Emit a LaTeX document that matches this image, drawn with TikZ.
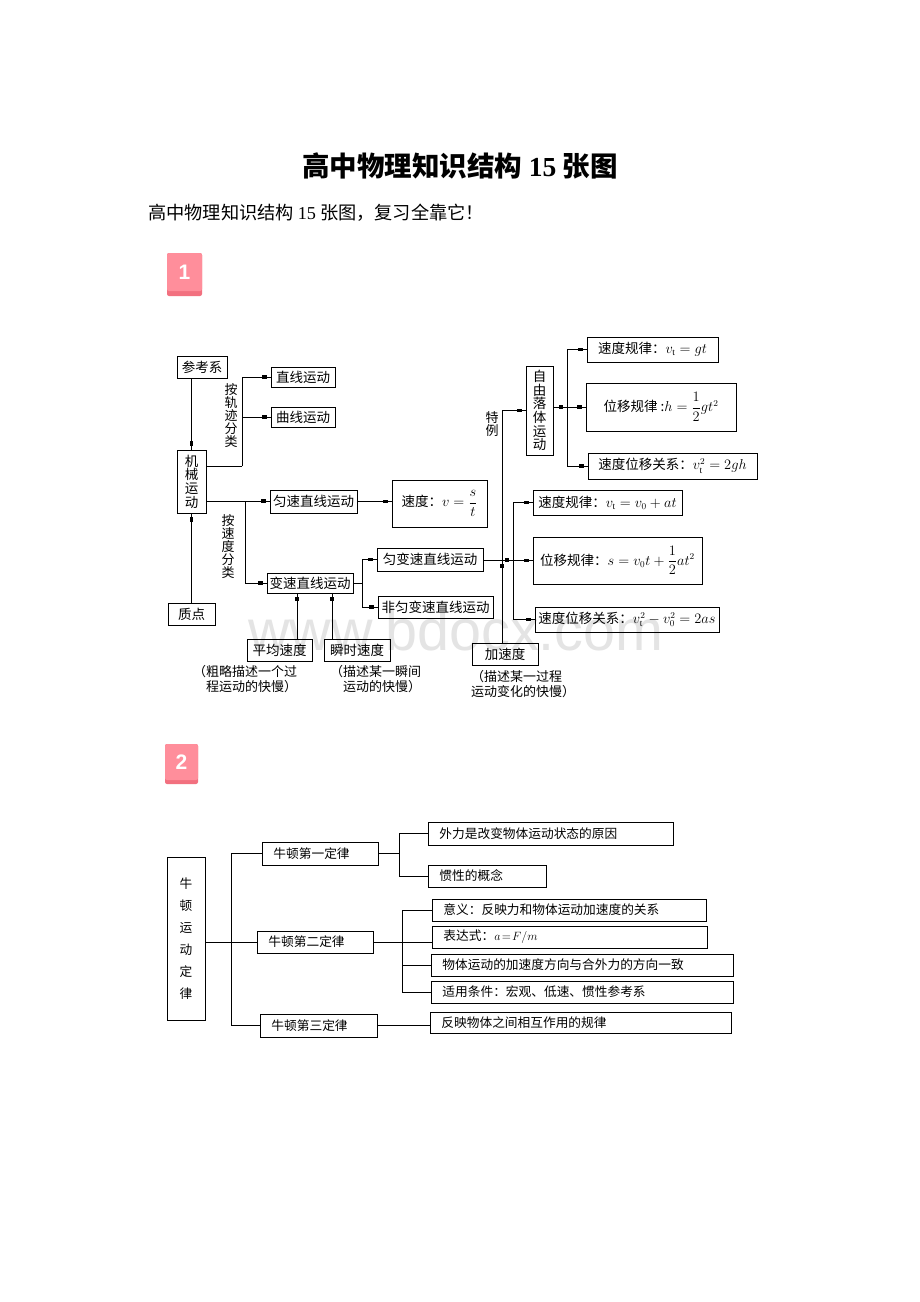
\documentclass[tikz,border=0pt]{standalone}
\usepackage{amsmath}
\usepackage{fontspec}
\setmainfont{Liberation Serif}
\newfontfamily\cjk{Noto Sans CJK SC}
\newfontfamily\sansf{Liberation Sans}
\usetikzlibrary{decorations.markings}
\definecolor{pinkbg}{HTML}{FF8E9B}
\definecolor{pinkdk}{HTML}{F2707F}
\definecolor{wmgray}{HTML}{E4E4E4}

\tikzset{
  bx/.style={draw,line width=0.9pt,inner sep=0pt,align=center,font=\cjk\fontsize{13.5}{13.6}\selectfont},
  bxl/.style={draw,line width=0.9pt,inner ysep=0pt,inner xsep=11pt,anchor=west,align=left,minimum height=22pt,font=\cjk\fontsize{12.7}{13}\selectfont},
  vt/.style={inner sep=0pt,align=center,font=\cjk\fontsize{13}{13}\selectfont},
  note/.style={inner sep=0pt,anchor=north west,align=left,font=\cjk\fontsize{13}{15}\selectfont},
  ln/.style={line width=0.9pt},
  mk/.style={ln,postaction={decorate,decoration={markings,mark=at position -6pt with {\fill (-2.2pt,-1.6pt) rectangle (2.2pt,1.6pt);}}}},
  badge/.style={text=white,font=\sansf\bfseries\fontsize{21}{21}\selectfont}
}

\begin{document}
\begin{tikzpicture}[x=1pt,y=-1pt]
\fill[white] (0,0) rectangle (920,1302);
\useasboundingbox (0,0) rectangle (920,1302);

\node[font=\cjk\bfseries\fontsize{27.5}{28}\selectfont] (title) at (460,165.5) {高中物理知识结构 {\rmfamily 15} 张图};
\node[anchor=west,inner sep=0pt,font=\cjk\fontsize{18.2}{19}\selectfont] (sub) at (148,213) {高中物理知识结构 {\rmfamily 15} 张图，复习全靠它！};

% badges
\fill[pinkdk,rounded corners=2pt] (167,253) rectangle (202,296);
\fill[pinkbg,rounded corners=2pt] (167,253) rectangle (202,291);
\node[badge] (b1) at (184.5,272) {1};
\fill[pinkdk,rounded corners=2pt] (165,744) rectangle (198,784);
\fill[pinkbg,rounded corners=2pt] (165,744) rectangle (198,780);
\node[badge] (b2) at (181.5,762) {2};

\node[anchor=base west,inner sep=0pt,text=wmgray,font=\sansf\fontsize{57.5}{58}\selectfont] (wm) at (248,650) {www.bdocx.com};

% picture 1
\node[bx,minimum width=50pt,minimum height=22pt] (ckx) at (202,367) {参考系};
\node[bx,minimum width=29pt,minimum height=63pt] (jx) at (191.5,481.5) {机\\械\\运\\动};
\node[bx,minimum width=47pt,minimum height=22pt] (zd) at (191.5,614) {质点};
\node[bx,minimum width=64pt,minimum height=20pt] (zx) at (303,377) {直线运动};
\node[bx,minimum width=64pt,minimum height=20pt] (qx) at (303,417) {曲线运动};
\node[bx,minimum width=87pt,minimum height=23pt] (ys) at (313.5,501.5) {匀速直线运动};
\node[bx,minimum width=95pt,minimum height=47pt] (sd) at (439.5,503.5) {速度：$v=\dfrac{s}{t}$};
\node[bx,minimum width=86pt,minimum height=20pt] (bs) at (310,583) {变速直线运动};
\node[bx,minimum width=106pt,minimum height=23pt] (ybs) at (430,559.5) {匀变速直线运动};
\node[bx,minimum width=115pt,minimum height=22pt] (fybs) at (435.5,607) {非匀变速直线运动};
\node[bx,minimum width=65pt,minimum height=22pt] (pj) at (279.5,650) {平均速度};
\node[bx,minimum width=66pt,minimum height=22pt] (ss) at (357,650) {瞬时速度};
\node[bx,minimum width=66pt,minimum height=22pt] (jsd) at (505,654) {加速度};
\node[bx,minimum width=27pt,minimum height=89pt] (zyl) at (539.5,410.5) {自\\由\\落\\体\\运\\动};

\node[bx,minimum width=131pt,minimum height=25pt] (g1) at (652.5,349.5) {速度规律：$v_{\mathrm t}=gt$};
\node[bx,minimum width=150pt,minimum height=48pt] (g2) at (661,407) {位移规律 :$h=\dfrac{1}{2}gt^2$};
\node[bx,minimum width=169pt,minimum height=26pt] (g3) at (672.5,466) {速度位移关系：$v_{\mathrm t}^2=2gh$};
\node[bx,minimum width=149pt,minimum height=25pt] (a1) at (607.5,502.5) {速度规律：$v_{\mathrm t}=v_0+at$};
\node[bx,minimum width=169pt,minimum height=47pt] (a2) at (617.5,560.5) {位移规律：$s=v_0t+\dfrac{1}{2}at^2$};
\node[bx,minimum width=184pt,minimum height=25pt] (a3) at (627,619.5) {速度位移关系：$v_{\mathrm t}^2-v_0^2=2as$};

\node[vt] (agj) at (231,415.5) {按\\轨\\迹\\分\\类};
\node[vt] (asd) at (228,546.5) {按\\速\\度\\分\\类};
\node[vt] (tl) at (492,424.5) {特\\例};
\node[note] (n1) at (193,665) {（粗略描述一个过\\\hspace*{1em}程运动的快慢）};
\node[note] (n2) at (330,665) {（描述某一瞬间\\\hspace*{1em}运动的快慢）};
\node[note] (n3) at (471,670) {（描述某一过程\\运动变化的快慢）};

\coordinate (j1) at (242,466);
\coordinate (j2) at (245,501);
\coordinate (j3) at (362,583);
\coordinate (j4) at (513,560);
\coordinate (j5) at (502,560);
\coordinate (j6) at (567,407);
\coordinate (p1) at (297,593);
\coordinate (p2) at (332,593);

\draw[mk] (jx.north |- ckx.south) -- (jx.north);
\draw[mk] (zd.north) -- (jx.south);
\draw[ln] (jx.east |- j1) -- (j1);
\draw[mk] (j1) |- (zx.west);
\draw[mk] (j1) |- (qx.west);
\draw[mk] (jx.east |- j2) -- (ys.west |- j2);
\draw[mk] (j2) |- (bs.west);
\draw[mk] (ys.east) -- (sd.west |- ys.east);
\draw[ln] (bs.east) -- (j3);
\draw[mk] (j3) |- (ybs.west);
\draw[mk] (j3) |- (fybs.west);
\draw[mk] (p1 |- pj.north) -- (p1);
\draw[mk] (p2 |- ss.north) -- (p2);
\draw[mk] (ybs.east |- j4) -- (j4);
\draw[mk] (j4) |- (a1.west);
\draw[mk] (j4) |- (a2.west);
\draw[mk] (j4) |- (a3.west);
\draw[mk] (j5 |- jsd.north) -- (j5);
\draw[mk] (j5) |- (zyl.west);
\draw[mk] (zyl.east |- j6) -- (j6);
\draw[mk] (j6) |- (g1.west);
\draw[mk] (j6) |- (g2.west);
\draw[mk] (j6) |- (g3.west);

% picture 2
\node[bx,minimum width=38pt,minimum height=163pt,font=\cjk\fontsize{12.7}{22}\selectfont] (nd) at (186,938.5) {牛\\顿\\运\\动\\定\\律};
\node[bxl,text width=94pt,minimum height=23pt] (d1) at (262,853.5) {牛顿第一定律};
\node[bxl,text width=94pt] (d2) at (257,942) {牛顿第二定律};
\node[bxl,text width=95pt,minimum height=23pt] (d3) at (260,1025.5) {牛顿第三定律};
\node[bxl,text width=223pt,minimum height=23pt] (wl) at (428,833.5) {外力是改变物体运动状态的原因};
\node[bxl,text width=96pt] (gx) at (428,876) {惯性的概念};
\node[bxl,text width=252pt] (yy) at (432,910) {意义：反映力和物体运动加速度的关系};
\node[bxl,text width=253pt] (bds) at (432,937) {表达式：$a\!=\!F/m$};
\node[bxl,text width=280pt] (ft) at (431,965) {物体运动的加速度方向与合外力的方向一致};
\node[bxl,text width=280pt] (sy) at (431,992) {适用条件：宏观、低速、惯性参考系};
\node[bxl,text width=279pt,minimum height=21pt] (fy) at (430,1022.5) {反映物体之间相互作用的规律};

\coordinate (k0) at (231,942);
\coordinate (k1) at (399,853.5);
\coordinate (k2) at (402,942);
\draw[ln] (nd.east |- k0) -- (k0);
\draw[ln] (k0) |- (d1.west);
\draw[ln] (k0) |- (d2.west);
\draw[ln] (k0) |- (d3.west);
\draw[ln] (d1.east) -- (k1);
\draw[ln] (k1) |- (wl.west);
\draw[ln] (k1) |- (gx.west);
\draw[ln] (d2.east) -- (k2);
\draw[ln] (k2) |- (yy.west);
\draw[ln] (k2) -- (k2 -| bds.west);
\draw[ln] (k2) |- (ft.west);
\draw[ln] (k2) |- (sy.west);
\draw[ln] (d3.east) -- (d3.east -| fy.west);
\end{tikzpicture}
\end{document}
